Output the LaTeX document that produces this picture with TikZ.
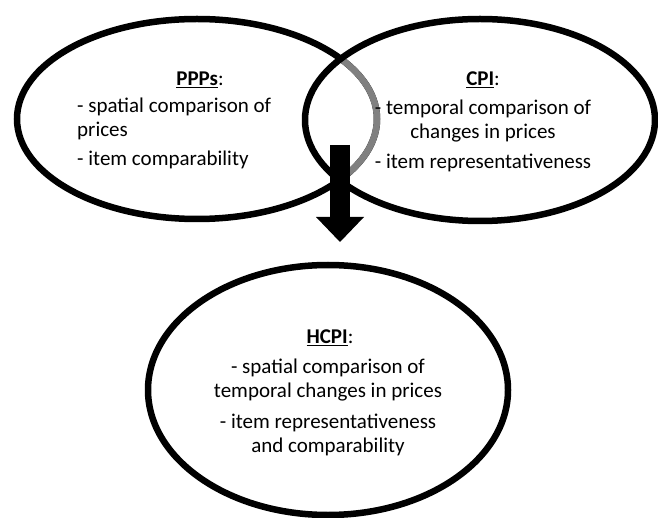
\documentclass[tikz,border=0pt]{standalone}
\usepackage{fontspec}
\setmainfont{Carlito}
\usetikzlibrary{arrows.meta}
\definecolor{arcgray}{RGB}{128,128,128}
\tikzset{
  ring/.style={line width=6.5pt},
  lbl/.style={inner sep=0pt}
}
\begin{document}
\begin{tikzpicture}[x=1pt,y=-1pt,font=\fontsize{21}{24}\selectfont]
    \useasboundingbox (0,0) rectangle (658,518);

    %centres of the ellipses
    \coordinate (ppp) at (197,119);
    \coordinate (cpi) at (480,120);
    \coordinate (hcpi) at (328,390);

    %draw ellipses
    \draw[ring] (ppp) ellipse [x radius=180pt, y radius=100pt];
    \begin{scope}
      \clip (cpi) ellipse [x radius=175pt, y radius=101pt];
      \draw[ring,arcgray] (ppp) ellipse [x radius=180pt, y radius=100pt];
    \end{scope}
    \draw[ring] (cpi) ellipse [x radius=175pt, y radius=101pt];
    \draw[ring] (hcpi) ellipse [x radius=180pt, y radius=125pt];

    %draw arrow
    \coordinate (arrowtop) at (340,145);
    \coordinate (arrowtip) at (340,242);
    \draw[line width=20pt,-{Triangle[width=48pt,length=25pt,line width=0pt]}] (arrowtop) -- (arrowtip);

    %draw labels
    \node[lbl] (ppphead) at (200,80) {\textbf{\underline{PPPs}}:};
    \node[lbl,anchor=west,align=left] (ppp1) at (77,119) {- spatial comparison of\\prices};
    \node[lbl,anchor=west] (ppp2) at (77,160) {- item comparability};

    \node[lbl] (cpihead) at (483,80) {\textbf{\underline{CPI}}:};
    \node[lbl,align=center] (cpi1) at (483,121) {- temporal comparison of\\changes in prices};
    \node[lbl] (cpi2) at (483,163) {- item representativeness};

    \node[lbl] (hcpihead) at (330,338) {\textbf{\underline{HCPI}}:};
    \node[lbl,align=center] (hcpi1) at (328,380) {- spatial comparison of\\temporal changes in prices};
    \node[lbl,align=center] (hcpi2) at (328,435) {- item representativeness\\and comparability};

\end{tikzpicture}
\end{document}
